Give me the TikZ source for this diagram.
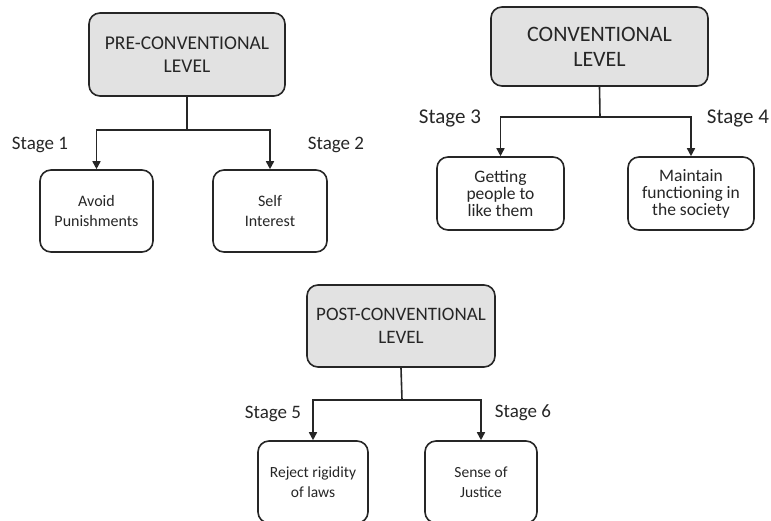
\documentclass[tikz,border=0pt]{standalone}
\usepackage{fontspec}
\setmainfont{Carlito}
\usetikzlibrary{arrows.meta}
\definecolor{levelfill}{HTML}{E2E2E2}
\definecolor{ink}{HTML}{262626}
\tikzset{
  box/.style={draw=ink, line width=1.6pt, rounded corners=11pt, inner sep=0pt,
    align=center, text=ink},
  levelbox/.style={box, fill=levelfill},
  stagebox/.style={box, fill=white},
  link/.style={draw=ink, line width=1.6pt},
  arr/.style={link, -{Triangle[width=8pt,length=8pt]}},
  stagelabel/.style={text=ink, inner sep=0pt},
}
\newcommand{\fs}[1]{\fontsize{#1}{#1*1.2}\selectfont}
\begin{document}
\begin{tikzpicture}[x=1pt, y=-1pt]
\useasboundingbox (0,0) rectangle (771,520);
\clip (0,0) rectangle (771,520);

% Pre-conventional level
\node[levelbox, minimum width=196, minimum height=83,
      font=\fontsize{19.5}{23}\selectfont] (pre) at (187,54.5) {PRE-CONVENTIONAL\\LEVEL};
\node[stagebox, minimum width=113, minimum height=82,
      font=\fontsize{16}{20}\selectfont] (avoid) at (96.5,211) {Avoid\\Punishments};
\node[stagebox, minimum width=114, minimum height=82,
      font=\fontsize{16}{20}\selectfont] (self) at (270,211) {Self\\Interest};
\coordinate (j1) at (187,130);
\draw[link] (pre.south) -- (j1);
\draw[arr] (j1) -| (avoid.north);
\draw[arr] (j1) -| (self.north);
\node[stagelabel, font=\fontsize{19}{23}\selectfont] (s1) at (40,145) {Stage 1};
\node[stagelabel, font=\fontsize{19}{23}\selectfont] (s2) at (336,145) {Stage 2};

% Conventional level
\node[levelbox, minimum width=217, minimum height=79,
      font=\fontsize{22}{25}\selectfont] (conv) at (599.5,46.5) {CONVENTIONAL\\LEVEL};
\node[stagebox, minimum width=127, minimum height=73,
      font=\fontsize{17.5}{17}\selectfont] (getting) at (500.5,193.5) {Getting\\people to\\like them};
\node[stagebox, minimum width=126, minimum height=73,
      font=\fontsize{17.5}{17}\selectfont] (maintain) at (691,193.5) {Maintain\\functioning in\\the society};
\coordinate (j2) at (600,117);
\draw[link] (conv.south) -- (j2);
\draw[arr] (j2) -| (getting.north);
\draw[arr] (j2) -| (maintain.north);
\node[stagelabel, font=\fontsize{21}{25}\selectfont] (s3) at (450,118) {Stage 3};
\node[stagelabel, font=\fontsize{21}{25}\selectfont] (s4) at (738,118) {Stage 4};

% Post-conventional level
\node[levelbox, minimum width=188, minimum height=82,
      font=\fontsize{19}{23}\selectfont] (post) at (401,326) {POST-CONVENTIONAL\\LEVEL};
\node[stagebox, minimum width=110, minimum height=82,
      font=\fontsize{15.5}{20}\selectfont] (reject) at (313,482) {Reject rigidity\\of laws};
\node[stagebox, minimum width=112, minimum height=82,
      font=\fontsize{15.5}{20}\selectfont] (sense) at (481,482) {Sense of\\Justice};
\coordinate (j3) at (402,400);
\draw[link] (post.south) -- (j3);
\draw[arr] (j3) -| (reject.north);
\draw[arr] (j3) -| (sense.north);
\node[stagelabel, font=\fontsize{19}{23}\selectfont] (s5) at (273,414) {Stage 5};
\node[stagelabel, font=\fontsize{19}{23}\selectfont] (s6) at (523,413) {Stage 6};
\end{tikzpicture}
\end{document}
